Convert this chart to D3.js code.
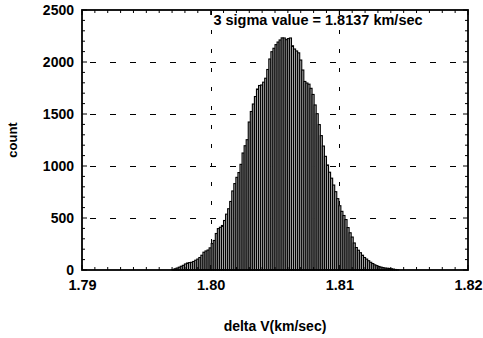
<!DOCTYPE html>
<html>
<head>
<meta charset="utf-8">
<script src="https://cdn.jsdelivr.net/npm/d3@7"></script>
<style>
  html, body { margin: 0; padding: 0; background: #fff; }
  svg { display: block; }
  text { font-family: "Liberation Sans", Arial, sans-serif; font-weight: bold; fill: #000; }
</style>
</head>
<body>
<script>
// ---- data ----
const binStart = 1.797;      // lower edge of first bin (km/sec)
const binWidth = 0.00016;    // bin width (km/sec)
const counts = [
  5, 12, 19, 27, 36, 45, 58, 67, 71, 74,
  82, 94, 105, 120, 142, 171, 183, 192, 213, 254,
  284, 351, 398, 411, 428, 476, 537, 589, 659, 760,
  831, 891, 937, 1016, 1125, 1195, 1253, 1423, 1524, 1596,
  1668, 1740, 1774, 1779, 1806, 1844, 1928, 2029, 2099, 2132,
  2167, 2192, 2212, 2232, 2231, 2215, 2225, 2231, 2156, 2125,
  2106, 2088, 2019, 1923, 1813, 1798, 1787, 1747, 1688, 1587,
  1503, 1398, 1292, 1192, 1093, 1010, 940, 883, 817, 753,
  686, 618, 564, 524, 485, 408, 358, 317, 260, 216,
  190, 166, 142, 120, 105, 89, 74, 62, 50, 42,
  34, 28, 23, 19, 17, 15, 12, 9, 5, 2
];
const xTicks = [1.79, 1.80, 1.81, 1.82];
const xTickLabels = ["1.79", "1.80", "1.81", "1.82"];
const yTicks = [0, 500, 1000, 1500, 2000, 2500];
const xGrid = [1.80, 1.81];
const yGrid = [500, 1000, 1500, 2000];
const titleText = "3 sigma value = 1.8137 km/sec";
const xLabel = "delta V(km/sec)";
const yLabel = "count";

// ---- layout ----
const W = 483, H = 338;
const L = 82, R = 468, T = 10, B = 270;

const svg = d3.select("body").append("svg").attr("width", W).attr("height", H);

const x = d3.scaleLinear().domain([1.79, 1.82]).range([L, R]);
const y = d3.scaleLinear().domain([0, 2500]).range([B, T]);

// grid
const g = svg.append("g");
g.selectAll(".hg").data(yGrid).enter().append("line")
  .attr("x1", L).attr("x2", R)
  .attr("y1", d => Math.round(y(d)) + 0.5).attr("y2", d => Math.round(y(d)) + 0.5)
  .attr("stroke", "#000").attr("stroke-width", 1)
  .attr("stroke-dasharray", "6,14").attr("stroke-dashoffset", -8);
g.selectAll(".vg").data(xGrid).enter().append("line")
  .attr("x1", d => Math.round(x(d)) + 0.5).attr("x2", d => Math.round(x(d)) + 0.5)
  .attr("y1", T).attr("y2", B)
  .attr("stroke", "#000").attr("stroke-width", 1)
  .attr("stroke-dasharray", "4,15").attr("stroke-dashoffset", -20);

// bars
const bins = counts.map((c, i) => ({ x0: binStart + i * binWidth, x1: binStart + (i + 1) * binWidth, c }));
svg.append("g").selectAll("rect").data(bins).enter().append("rect")
  .attr("x", d => x(d.x0))
  .attr("width", d => x(d.x1) - x(d.x0))
  .attr("y", d => y(d.c))
  .attr("height", d => y(0) - y(d.c))
  .attr("fill", "#b0b0b0")
  .attr("stroke", "#000")
  .attr("stroke-width", 1.1);

// frame
svg.append("rect").attr("x", L).attr("y", T).attr("width", R - L).attr("height", B - T)
  .attr("fill", "none").attr("stroke", "#000").attr("stroke-width", 1.8);

// inward ticks
const xMinor = d3.range(1.79, 1.8201, 0.001);
const yMinor = d3.range(0, 2501, 100);
const tk = svg.append("g").attr("stroke", "#000").attr("stroke-width", 1);
xMinor.forEach(v => {
  const len = xTicks.some(t => Math.abs(t - v) < 1e-6) ? 5 : 3;
  tk.append("line").attr("x1", x(v)).attr("x2", x(v)).attr("y1", B).attr("y2", B - len);
  tk.append("line").attr("x1", x(v)).attr("x2", x(v)).attr("y1", T).attr("y2", T + len);
});
yMinor.forEach(v => {
  const len = (v % 500 === 0) ? 5 : 3;
  tk.append("line").attr("y1", y(v)).attr("y2", y(v)).attr("x1", L).attr("x2", L + len);
  tk.append("line").attr("y1", y(v)).attr("y2", y(v)).attr("x1", R).attr("x2", R - len);
});

// axis labels via d3 axes (text only)
const xAxis = d3.axisBottom(x).tickValues(xTicks).tickFormat((d, i) => xTickLabels[i]).tickSize(0).tickPadding(10);
const xa = svg.append("g").attr("transform", `translate(0,${B})`).call(xAxis);
xa.select(".domain").remove();
xa.selectAll("text").style("font-size", "14.5px").style("font-family", "'Liberation Sans', Arial, sans-serif").style("font-weight", "bold");

const yAxis = d3.axisLeft(y).tickValues(yTicks).tickFormat(d3.format("d")).tickSize(0).tickPadding(8);
const ya = svg.append("g").attr("transform", `translate(${L},0)`).call(yAxis);
ya.select(".domain").remove();
ya.selectAll("text").style("font-size", "14px").style("font-family", "'Liberation Sans', Arial, sans-serif").style("font-weight", "bold");

// title inside plot
svg.append("text").attr("x", 318).attr("y", 25).attr("text-anchor", "middle")
  .style("font-size", "14.5px").text(titleText);

// axis titles
svg.append("text").attr("x", 275).attr("y", 331).attr("text-anchor", "middle")
  .style("font-size", "14px").text(xLabel);
svg.append("text").attr("transform", "translate(17,140) rotate(-90)").attr("text-anchor", "middle")
  .style("font-size", "13px").text(yLabel);
</script>
</body>
</html>
